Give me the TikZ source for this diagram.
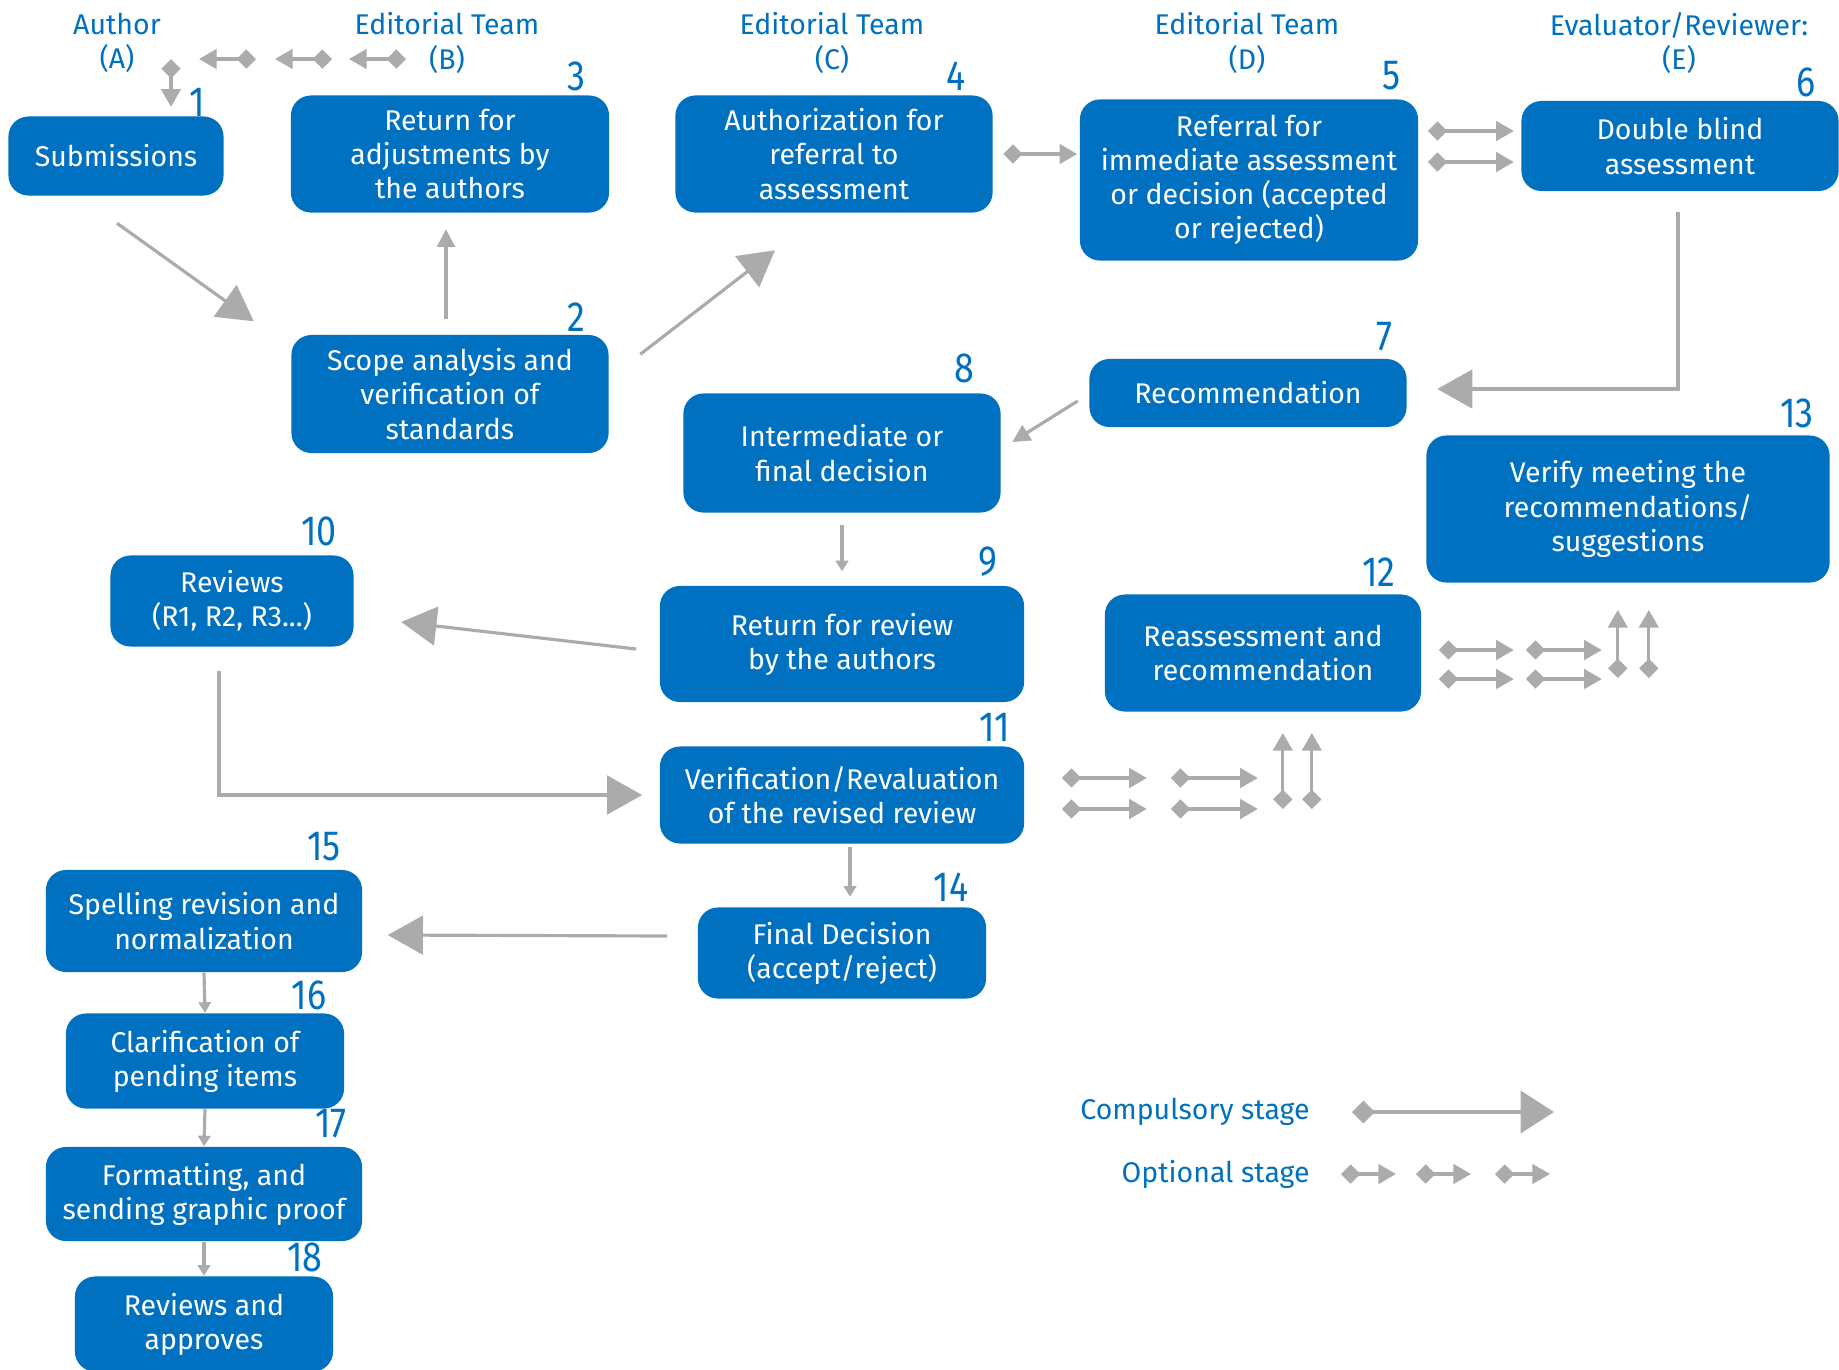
\documentclass[tikz,border=0pt]{standalone}
\usepackage{fontspec}
\setmainfont{Fira Sans}
\newfontfamily\numfont{Fira Sans}[FakeStretch=0.85]
\usetikzlibrary{arrows.meta,calc}
\definecolor{boxblue}{RGB}{0,112,192}
\definecolor{linegray}{RGB}{171,171,171}

\begin{document}
\begin{tikzpicture}[
  x=0.01cm, y=-0.01cm,
  box/.style={fill=boxblue, rounded corners=0.2cm, text=white, align=center, inner sep=0pt,
    font=\fontsize{8.1}{9.7}\selectfont},
  head/.style={text=boxblue, align=center, font=\fontsize{8.1}{9.7}\selectfont},
  num/.style={text=boxblue, font=\numfont\fontsize{12}{12}\selectfont},
  big/.style={linegray, line width=0.9pt, -{Triangle[length=10pt,width=11pt]}},
  mid/.style={linegray, line width=0.9pt, -{Triangle[length=5pt,width=5pt]}},
  small/.style={linegray, line width=0.9pt, -{Triangle[length=3pt,width=3.5pt]}},
  opt/.style={linegray, line width=0.9pt, {Diamond[length=5.5pt,width=5.5pt]}-{Triangle[length=5pt,width=5.5pt]}},
  comp/.style={linegray, line width=0.9pt, {Diamond[length=6.5pt,width=6.5pt]}-{Triangle[length=9.5pt,width=12pt]}}
]
\useasboundingbox (0,0) rectangle (1839,1369);

% column heads
\node[head] (hA) at (117,43) {Author\\(A)};
\node[head] (hB) at (447,43) {Editorial Team\\(B)};
\node[head] (hC) at (832,43) {Editorial Team\\(C)};
\node[head] (hD) at (1247,43) {Editorial Team\\(D)};
\node[head] (hE) at (1679,43) {Evaluator/Reviewer:\\(E)};

% stages
\node[box, minimum width=2.15cm, minimum height=0.79cm] (sub) at (116,156) {Submissions};
\node[box, minimum width=3.18cm, minimum height=1.17cm] (adjust) at (450,154) {Return for\\adjustments by\\the authors};
\node[box, minimum width=3.17cm, minimum height=1.17cm] (auth) at (834,154) {Authorization for\\referral to\\assessment};
\node[box, minimum width=3.38cm, minimum height=1.61cm] (referral) at (1249,180) {Referral for\\immediate assessment\\or decision (accepted\\or rejected)};
\node[box, minimum width=3.17cm, minimum height=0.90cm] (blind) at (1680,146) {Double blind\\assessment};
\node[box, minimum width=3.17cm, minimum height=1.18cm] (scope) at (450,394) {Scope analysis and\\verification of\\standards};
\node[box, minimum width=3.17cm, minimum height=0.68cm] (recom) at (1248,393) {Recommendation};
\node[box, minimum width=3.17cm, minimum height=1.19cm] (inter) at (842,453) {Intermediate or\\final decision};
\node[box, minimum width=4.03cm, minimum height=1.47cm] (verify) at (1628,509) {Verify meeting the\\recommendations/\\suggestions};
\node[box, minimum width=2.43cm, minimum height=0.91cm] (reviews) at (232,601) {Reviews\\(R1, R2, R3...)};
\node[box, minimum width=3.64cm, minimum height=1.16cm] (retrev) at (842,644) {Return for review\\by the authors};
\node[box, minimum width=3.16cm, minimum height=1.17cm] (reass) at (1263,653) {Reassessment and\\recommendation};
\node[box, minimum width=3.64cm, minimum height=0.97cm] (reval) at (842,795) {Verification/Revaluation\\of the revised review};
\node[box, minimum width=2.88cm, minimum height=0.91cm] (final) at (842,953) {Final Decision\\(accept/reject)};
\node[box, minimum width=3.16cm, minimum height=1.02cm] (spell) at (204,921) {Spelling revision and\\normalization};
\node[box, minimum width=2.78cm, minimum height=0.95cm] (clar) at (205,1061) {Clarification of\\pending items};
\node[box, minimum width=3.16cm, minimum height=0.94cm] (format) at (204,1194) {Formatting, and\\sending graphic proof};
\node[box, minimum width=2.58cm, minimum height=0.95cm] (approve) at (204,1324) {Reviews and\\approves};

% step numbers
\node[num] (n1) at (197,102) {1};
\node[num] (n2) at (576,317) {2};
\node[num] (n3) at (576,76) {3};
\node[num] (n4) at (956,76) {4};
\node[num] (n5) at (1391,76) {5};
\node[num] (n6) at (1806,82) {6};
\node[num] (n7) at (1384,337) {7};
\node[num] (n8) at (964,368) {8};
\node[num] (n9) at (988,562) {9};
\node[num] (n10) at (319,531) {10};
\node[num] (n11) at (995,727) {11};
\node[num] (n12) at (1379,572) {12};
\node[num] (n13) at (1797,413) {13};
\node[num] (n14) at (951,887) {14};
\node[num] (n15) at (324,847) {15};
\node[num] (n16) at (309,995) {16};
\node[num] (n17) at (331,1124) {17};
\node[num] (n18) at (305,1257) {18};

% author chain
\coordinate (achain) at (171,59);
\draw[opt] (achain) -- ($(sub.north -| achain)+(0,-9)$);
\foreach \dx in {85,161,235}
  \draw[opt] ($(achain)+(\dx,0)$) -- ++(-57,0);

% connectors
\draw[big] ($(sub.south)+(1,27)$) -- ($(scope.north west)+(-37,-13)$);
\draw[mid] ($(scope.north)+(-4,-15)$) -- ($(adjust.south)+(-4,16)$);
\draw[big] ($(scope.north east)+(31,20)$) -- ($(auth.south)+(-59,37)$);
\draw[opt] ($(auth.east)+(10,0)$) -- ++(74,0);
\foreach \dy in {-49,-18}
  \draw[opt] ($(referral.east)+(9,\dy)$) -- ++(86,0);
\draw[big] ($(blind.south)+(-2,20)$) |- ($(recom.east)+(30,-4)$);
\draw[mid] ($(recom.west)+(-11,8)$) -- ($(inter.east)+(11,-11)$);
\draw[small] ($(inter.south)+(0,12)$) -- ($(retrev.north)+(0,-14)$);
\draw[big] ($(retrev.west)+(-23,5)$) -- ($(reviews.east)+(47,21)$);
\draw[big] ($(reviews.south)+(-13,24)$) |- ($(reval.west)+(-17,0)$);
\draw[small] ($(reval.south)+(8,3)$) -- ($(final.north)+(8,-10)$);
\draw[big] ($(final.west)+(-30,-17)$) -- ($(spell.east)+(25,14)$);
\draw[small] (spell.south) -- (clar.north);
\draw[small] (clar.south) -- (format.north);
\draw[small] (format.south) -- (approve.north);

% optional loops towards reassessment and verification
\foreach \dy in {-17,14} {
  \draw[opt] ($(reval.east)+(37,\dy)$) -- ++(85,0);
  \draw[opt] ($(reval.east)+(146,\dy)$) -- ++(87,0);
}
\foreach \dx in {258,287}
  \draw[opt] ($(reval.east)+(\dx,14)$) -- ++(0,-76);
\foreach \dy in {-3,26} {
  \draw[opt] ($(reass.east)+(17,\dy)$) -- ++(75,0);
  \draw[opt] ($(reass.east)+(104,\dy)$) -- ++(76,0);
}
\foreach \dx in {196,227}
  \draw[opt] ($(reass.east)+(\dx,25)$) -- ++(0,-68);

% legend
\node[head, anchor=east] (lcomp) at (1322,1112) {Compulsory stage};
\node[head, anchor=east] (lopt) at (1322,1174) {Optional stage};
\draw[comp] ($(lcomp.east)+(30,0)$) -- ++(202,0);
\foreach \dx in {19,94,173}
  \draw[opt] ($(lopt.east)+(\dx,0)$) -- ++(55,0);
\end{tikzpicture}
\end{document}
